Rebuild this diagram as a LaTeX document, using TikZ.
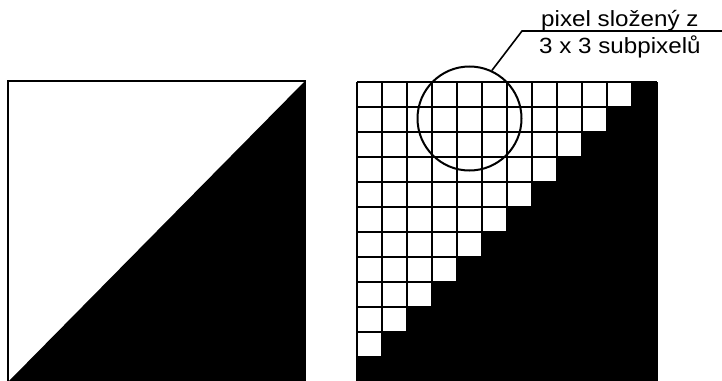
\documentclass[tikz,border=0pt]{standalone}
\usepackage{fontspec}
\setmainfont{Liberation Sans}
\begin{document}
\begin{tikzpicture}[x=1pt,y=-1pt,
  thinline/.style={line width=1.2pt},
  thickline/.style={line width=2pt},
  lbl/.style={font=\fontsize{22}{26}\selectfont, inner sep=0pt, xscale=1.1, anchor=base west},
  pixcircle/.style={circle, draw, line width=2pt, minimum size=104pt, inner sep=0pt}]
\useasboundingbox (0,0) rectangle (722,380);
\clip (0,0) rectangle (722,380);
% left square
\fill[black] (305,81) -- (305,382) -- (8,382) -- cycle;
\draw[thinline] (8,382) -- (8,81) -- (305,81) -- (305,382);
% right grid
\foreach \i in {0,...,12} {
  \draw[thinline] (357+25*\i,82) -- (357+25*\i,382);
  \draw[thinline] (357,82+25*\i) -- (657,82+25*\i);
}
\foreach \i in {0,3,...,12} {
  \draw[thickline] (357+25*\i,82) -- (357+25*\i,382);
  \draw[thickline] (357,82+25*\i) -- (657,82+25*\i);
}
\fill[black] (657,82) -- (632,82)
  \foreach \r in {0,...,11} { -- (357+25*11-25*\r,82+25*\r) -- (357+25*11-25*\r,107+25*\r) }
  -- (357,382) -- (657,382) -- cycle;
\draw[thinline] (657,82) -- (657,382);
% circle and leader
\node[pixcircle] (pix) at (469.5,118.5) {};
\coordinate (knee) at (522,31);
\coordinate (lend) at (722,31);
\draw[line width=1.6pt] (pix.65) -- (knee) -- (lend);
\node[lbl] (l1) at (541,27) {pixel složený z};
\node[lbl] (l2) at (539,53) {3 x 3 subpixelů};
\end{tikzpicture}
\end{document}
